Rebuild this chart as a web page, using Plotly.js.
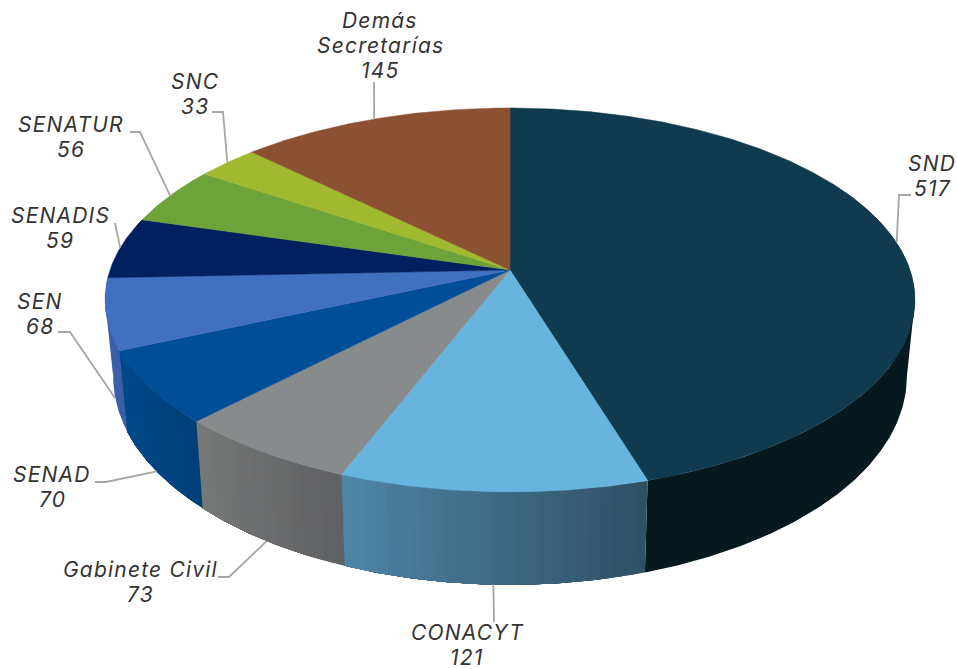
<!DOCTYPE html>
<html><head><meta charset="utf-8">
<script src="https://cdn.plot.ly/plotly-3.0.1.min.js"></script>
<style>html,body{margin:0;padding:0;background:#fff}
.annotation-text,.annotation text{letter-spacing:1.2px}</style></head>
<body><div id="chart" style="width:957px;height:669px"></div>
<script>
// data, clockwise from 12 o'clock
const categories = ["SND","CONACYT","Gabinete Civil","SENAD","SEN","SENADIS","SENATUR","SNC","Demás<br>Secretarías"];
const values = [517,121,73,70,68,59,56,33,145];
// styles: wall shading runs from the slice's right-hand edge to its left-hand edge on screen
const topColors = ["#103a4e","#67b5df","#878b8c","#004e98","#4270c1","#002060","#6da338","#a0b92e","#8c5032"];
const wallRight = ["#06191f","#2f4f63","#5f6062","#003f77","#3a5fa8",null,null,null,null];
const wallLeft  = ["#06191f","#4f86a8","#777979","#004a8b","#3a5fa8",null,null,null,null];
// label centres and leader elbows, in axis units (pixels of the 957x669 frame)
const labelPos = [[932,176],[467,645],[140,582],[52,487],[40,314],[60,228],[71,137],[195,94],[380,45]];
const leaderEnds = [
 [[899,195],[911,195]],[[494,622]],[[229,577],[218,577]],[[106,482],[95,482]],
 [[70,332],[58,332]],[[115,223]],[[140,132],[130,132]],[[223,112],[212,112]],[[374,82]]];
const lineGap = 25;

// projection of the pie disc
const cx=510, cy=270, a=400, b=187.3, k=0.156;
function rim(deg){const t=deg*Math.PI/180,u=Math.sin(t),v=Math.cos(t),d=1+k*v;
  return [cx+a*u/d, cy-b*v/d];}
function low(deg){const p=rim(deg);return [cx+(p[0]-cx)*0.98, cy+(p[1]-cy)*1.085+74];}
function hex(c){return [1,3,5].map(i=>parseInt(c.substr(i,2),16));}
function mix(c1,c2,f){const A=hex(c1),B=hex(c2);
  return "rgb("+A.map((x,i)=>Math.round(x+(B[i]-x)*f)).join(",")+")";}

const total=values.reduce((s,v)=>s+v,0);
const edges=[0]; values.forEach(v=>edges.push(edges[edges.length-1]+v/total*360));
const traces=[];

// straight silhouette of the disc's thickness at its two sides
function sideFill(P,col){
  const Q=P.concat([P[0]]);
  traces.push({type:"scatter",mode:"lines",x:Q.map(p=>p[0]),y:Q.map(p=>p[1]),fill:"toself",
    fillcolor:col,line:{color:col,width:0},hoverinfo:"skip",showlegend:false});
}
sideFill([rim(99),low(99),rim(118)],wallRight[0]);
sideFill([rim(261),low(261),rim(247)],wallLeft[4]);

// side wall: each band reaches to the slice's far edge and the next one paints over it, leaving no seams
values.forEach((val,i)=>{
  if(!wallRight[i]) return;
  const s=i===0?60:edges[i], e=edges[i+1];
  const n=wallRight[i]===wallLeft[i]?1:Math.ceil((e-s)/1.5);
  for(let j=0;j<n;j++){
    const d0=s+(e-s)*j/n, up=[], dn=[];
    const m=Math.max(2,Math.ceil((e-d0)/0.5));
    for(let q=0;q<=m;q++){const d=d0+(e-d0)*q/m;up.push(rim(d));dn.unshift(low(d));}
    const P=up.concat(dn,[up[0]]);
    const col=mix(wallRight[i],wallLeft[i],(j+0.5)/n);
    traces.push({type:"scatter",mode:"lines",x:P.map(p=>p[0]),y:P.map(p=>p[1]),fill:"toself",
      fillcolor:col,line:{color:col,width:0},hoverinfo:"skip",showlegend:false});
  }
});
// top face
values.forEach((val,i)=>{
  const s=edges[i], e=edges[i+1], xs=[cx], ys=[cy];
  const n=Math.ceil((e-s)/0.5);
  for(let j=0;j<=n;j++){const p=rim(s+(e-s)*j/n);xs.push(p[0]);ys.push(p[1]);}
  xs.push(cx);ys.push(cy);
  traces.push({type:"scatter",mode:"lines",x:xs,y:ys,fill:"toself",fillcolor:topColors[i],
    line:{color:topColors[i],width:0.5},name:categories[i].replace("<br>"," "),
    hoverinfo:"text",text:categories[i].replace("<br>"," ")+": "+val,showlegend:false});
});
// leader lines start on the rim at each slice's middle
values.forEach((val,i)=>{
  const m=(edges[i]+edges[i+1])/2;
  const front=i>=1&&i<=3;
  const st=i===4?[115,398]:(front?low(m):rim(m));
  const pts=[st].concat(leaderEnds[i]);
  traces.push({type:"scatter",mode:"lines",x:pts.map(p=>p[0]),y:pts.map(p=>p[1]),
    line:{color:"#a6a6a6",width:1.8},hoverinfo:"skip",showlegend:false});
});
// each text line is its own annotation so the line spacing can match
const annotations=[];
values.forEach((val,i)=>{
  const lines=categories[i].split("<br>").concat([String(val)]);
  lines.forEach((t,j)=>annotations.push({x:labelPos[i][0],y:labelPos[i][1]+(j-(lines.length-1)/2)*lineGap,
    xref:"x",yref:"y",text:"<i>"+t+"</i>",showarrow:false,xanchor:"center",yanchor:"middle",align:"center",
    font:{family:"Inter, 'Open Sans', sans-serif",size:21,color:"#333333"}}));
});
Plotly.newPlot("chart",traces,{
  width:957,height:669,margin:{l:0,r:0,t:0,b:0},paper_bgcolor:"#fff",plot_bgcolor:"#fff",showlegend:false,
  xaxis:{range:[0,957],visible:false,fixedrange:true},
  yaxis:{range:[669,0],visible:false,fixedrange:true},
  annotations:annotations
},{displayModeBar:false});
</script></body></html>
